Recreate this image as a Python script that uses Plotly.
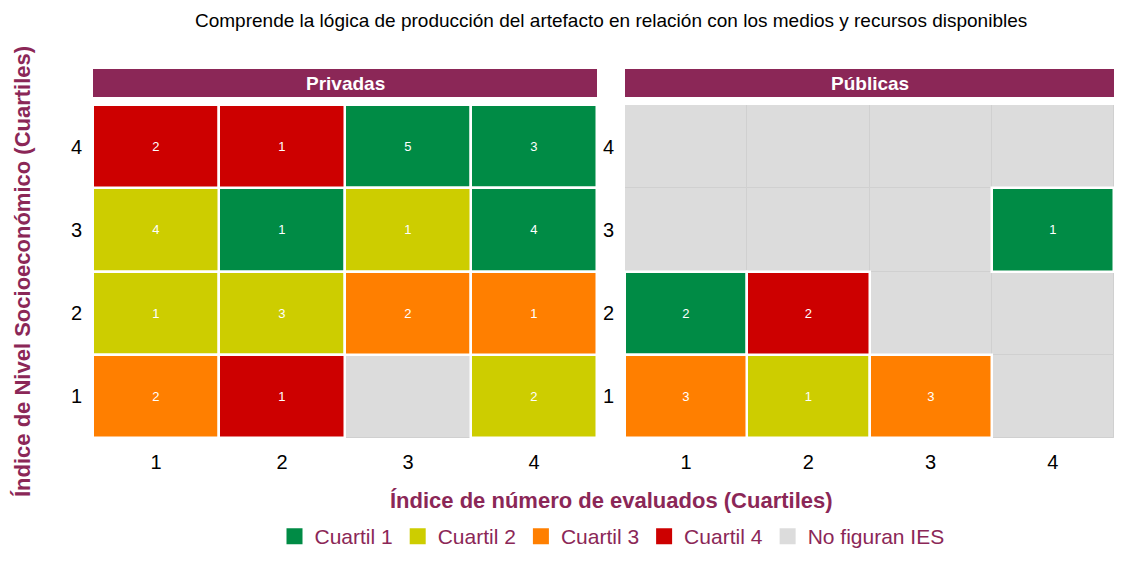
import plotly.graph_objects as go

# celdas con IES: columna (evaluados), fila (nivel socioeconomico), cantidad, cuartil
priv_x = [1, 2, 3, 4, 1, 2, 3, 4, 1, 2, 3, 4, 1, 2, 4]
priv_y = [4, 4, 4, 4, 3, 3, 3, 3, 2, 2, 2, 2, 1, 1, 1]
priv_n = [2, 1, 5, 3, 4, 1, 1, 4, 1, 3, 2, 1, 2, 1, 2]
priv_q = [4, 4, 1, 1, 2, 1, 2, 1, 2, 2, 3, 3, 3, 4, 2]

pub_x = [4, 1, 2, 1, 2, 3]
pub_y = [3, 2, 2, 1, 1, 1]
pub_n = [1, 2, 2, 3, 1, 3]
pub_q = [1, 1, 4, 3, 2, 3]

cuartiles = [1, 2, 3, 4]
colores = {1: "#008B45", 2: "#CDCD00", 3: "#FF7F00", 4: "#CD0000"}
gris = "#DCDCDC"
granate = "#8B2757"
niveles = [1, 2, 3, 4]

OFF = 8  # margen del body de la pagina
W, H = 1122 - 2 * OFF, 565 - 2 * OFF


def px(v):
    return min((v - OFF) / W, 1.0)


def py(v):
    return 1 - (v - OFF) / H


fig = go.Figure()

paneles = [("x", "y", priv_x, priv_y, priv_n, priv_q),
           ("x2", "y2", pub_x, pub_y, pub_n, pub_q)]

# celdas sin IES (gris)
for i, (xa, ya, xs, ys, ns, qs) in enumerate(paneles):
    ocupadas = set(zip(xs, ys))
    gx = [c for c in niveles for r in niveles if (c, r) not in ocupadas]
    gy = [r for c in niveles for r in niveles if (c, r) not in ocupadas]
    fig.add_trace(go.Bar(
        x=gx, y=[1] * len(gx), base=[v - 0.5 for v in gy], width=1,
        marker=dict(color=gris, line=dict(color="#D0D0D0", width=1)),
        showlegend=False, xaxis=xa, yaxis=ya, hoverinfo="skip"))

# celdas coloreadas por cuartil
for i, (xa, ya, xs, ys, ns, qs) in enumerate(paneles):
    for q in cuartiles:
        idx = [k for k in range(len(qs)) if qs[k] == q]
        fig.add_trace(go.Bar(
            x=[xs[k] for k in idx], y=[1] * len(idx),
            base=[ys[k] - 0.5 for k in idx], width=1,
            text=[str(ns[k]) for k in idx],
            textposition="inside", insidetextanchor="middle", textangle=0,
            textfont=dict(color="white", size=13),
            marker=dict(color=colores[q], line=dict(color="white", width=2.5)),
            name="Cuartil %d" % q, showlegend=False, xaxis=xa, yaxis=ya))

# entradas de la leyenda
for q in cuartiles:
    fig.add_trace(go.Scatter(x=[None], y=[None], mode="markers", name="Cuartil %d" % q,
                             marker=dict(symbol="square", size=16, color=colores[q])))
fig.add_trace(go.Scatter(x=[None], y=[None], mode="markers", name="No figuran IES",
                         marker=dict(symbol="square", size=16, color=gris)))

eje_x = dict(range=[0.5, 4.5], tickvals=niveles, showgrid=False, zeroline=False,
             ticks="outside", ticklen=6, tickcolor="rgba(0,0,0,0)",
             tickfont=dict(size=20, color="black"), fixedrange=True)
eje_y = dict(range=[0.5, 4.5], tickvals=niveles, showgrid=False, zeroline=False,
             ticks="outside", ticklen=6, tickcolor="rgba(0,0,0,0)",
             tickfont=dict(size=20, color="black"), fixedrange=True,
             domain=[py(438), py(105)])

fig.update_layout(
    width=W, height=H,
    margin=dict(l=0, r=0, t=0, b=0),
    paper_bgcolor="white", plot_bgcolor=gris,
    barmode="overlay", bargap=0,
    font=dict(family="Liberation Sans, Arial, sans-serif"),
    xaxis=dict(eje_x, domain=[px(93), px(597)]),
    xaxis2=dict(eje_x, domain=[px(625), px(1122)], anchor="y2"),
    yaxis=eje_y,
    yaxis2=dict(eje_y, anchor="x2"),
    showlegend=True,
    legend=dict(orientation="h", x=px(612), xanchor="center", y=0, yanchor="bottom",
                font=dict(size=21, color=granate), traceorder="normal",
                itemwidth=30),
)

# franjas de los paneles
for x0, x1, txt in [(93, 597, "Privadas"), (625, 1122, "Públicas")]:
    fig.add_shape(type="rect", xref="paper", yref="paper", x0=px(x0), x1=px(x1),
                  y0=py(97), y1=py(69), fillcolor=granate, line_width=0)
    fig.add_annotation(xref="paper", yref="paper", x=(px(x0) + px(x1)) / 2, y=py(83),
                       xanchor="center", yanchor="middle",
                       text="<b>%s</b>" % txt, showarrow=False,
                       font=dict(size=19, color="white"))

fig.add_annotation(xref="paper", yref="paper", x=px(611), y=1,
                   xanchor="center", yanchor="top",
                   text="Comprende la lógica de producción del artefacto en relación con los medios y recursos disponibles",
                   showarrow=False, font=dict(size=19, color="black"))
fig.add_annotation(xref="paper", yref="paper", x=px(611), y=py(500),
                   xanchor="center", yanchor="middle",
                   text="<b>Índice de número de evaluados (Cuartiles)</b>",
                   showarrow=False, font=dict(size=22, color=granate))
fig.add_annotation(xref="paper", yref="paper", x=px(22), y=py(272),
                   xanchor="center", yanchor="middle",
                   text="<b>Índice de Nivel Socioeconómico (Cuartiles)</b>", textangle=-90,
                   showarrow=False, font=dict(size=22, color=granate))

fig.write_html("out.html")
